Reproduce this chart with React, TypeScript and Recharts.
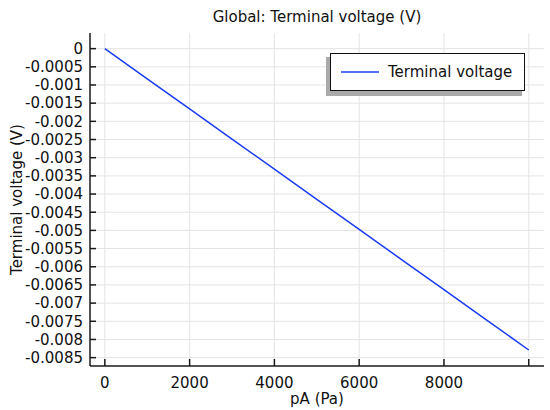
import { LineChart, Line, XAxis, YAxis, CartesianGrid, Legend, Label } from 'recharts';

const pressure = [0, 1000, 2000, 3000, 4000, 5000, 6000, 7000, 8000, 9000, 10000];
const voltage = [0, -0.000829, -0.001658, -0.002487, -0.003316, -0.004145, -0.004974, -0.005803, -0.006632, -0.007461, -0.00829];
const xTicks = [0, 2000, 4000, 6000, 8000, 10000];
const xTickLabels = ['0', '2000', '4000', '6000', '8000', ''];
const yTicks = [0, -0.0005, -0.001, -0.0015, -0.002, -0.0025, -0.003, -0.0035, -0.004, -0.0045, -0.005, -0.0055, -0.006, -0.0065, -0.007, -0.0075, -0.008, -0.0085];
const seriesName = 'Terminal voltage';

const data = pressure.map((p, i) => ({ pA: p, v: voltage[i] }));

const FONT = '"DejaVu Sans", sans-serif';
const AXIS = '#1a1a1a';
const tickStyle = { fontSize: 15, fill: '#111', fontFamily: FONT };
const hiddenTick = { fontSize: 1, fill: 'none' };

function LegendBox() {
  return (
    <div style={{ position: 'relative', width: 196, height: 39, fontFamily: FONT }}>
      <div style={{ position: 'absolute', left: -4, top: 4, width: 196, height: 39, background: '#aaa' }} />
      <div
        style={{
          position: 'absolute', left: 0, top: 0, width: 193, height: 36,
          background: '#fff', border: '1.5px solid #111',
          display: 'flex', alignItems: 'center',
        }}
      >
        <svg width={48} height={10} style={{ marginLeft: 10 }}>
          <line x1={0} y1={5} x2={38} y2={5} stroke="#1a3cf0" strokeWidth={1.5} />
        </svg>
        <span style={{ fontSize: 15, color: '#111', marginLeft: -1 }}>{seriesName}</span>
      </div>
    </div>
  );
}

export default function App() {
  return (
    <div style={{ position: 'absolute', left: 0, top: 0, width: 550, height: 410, background: '#fff' }}>
      <div
        style={{
          position: 'absolute', left: 90, width: 454, top: 8, textAlign: 'center',
          fontFamily: FONT, fontSize: 15, color: '#111',
        }}
      >
        Global: Terminal voltage (V)
      </div>
      <LineChart width={550} height={410} data={data} margin={{ top: 33, right: 6, bottom: 0, left: 0 }}>
        <CartesianGrid stroke="#e4e4e4" strokeWidth={1} verticalValues={xTicks} horizontalValues={yTicks} />
        <XAxis
          dataKey="pA"
          type="number"
          domain={[-350, 10360]}
          ticks={xTicks}
          interval={0}
          allowDataOverflow
          height={44}
          tickSize={-7}
          tickMargin={18}
          stroke={AXIS}
          strokeWidth={1.5}
          tick={tickStyle}
          tickFormatter={(v: number) => xTickLabels[xTicks.indexOf(v)] ?? String(v)}
        >
          <Label value="pA (Pa)" position="insideBottom" offset={6} style={{ fontSize: 15, fill: '#111', fontFamily: FONT }} />
        </XAxis>
        <XAxis
          xAxisId="top"
          orientation="top"
          dataKey="pA"
          type="number"
          domain={[-350, 10360]}
          ticks={xTicks}
          interval={0}
          allowDataOverflow
          height={0}
          tickSize={-7}
          tick={hiddenTick}
          stroke={AXIS}
          strokeWidth={1.5}
        />
        <YAxis
          type="number"
          domain={[-0.00873, 0.00043]}
          ticks={yTicks}
          interval={0}
          allowDataOverflow
          width={90}
          tickSize={-6}
          tickMargin={13}
          stroke={AXIS}
          strokeWidth={1.5}
          tick={tickStyle}
          tickFormatter={(v: number) => String(Number(v.toFixed(4)))}
        >
          <Label
            value="Terminal voltage (V)"
            angle={-90}
            position="insideLeft"
            offset={17}
            style={{ fontSize: 15, fill: '#111', fontFamily: FONT, textAnchor: 'middle' }}
          />
        </YAxis>
        <YAxis
          yAxisId="right"
          orientation="right"
          type="number"
          domain={[-0.00873, 0.00043]}
          ticks={yTicks}
          interval={0}
          allowDataOverflow
          width={0}
          tickSize={-6}
          tick={hiddenTick}
          stroke={AXIS}
          strokeWidth={1.5}
        />
        <Legend
          layout="horizontal"
          verticalAlign="middle"
          align="center"
          wrapperStyle={{ position: 'absolute', left: 330, top: 53, width: 200, height: 45 }}
          content={() => <LegendBox />}
        />
        <Line
          type="linear"
          dataKey="v"
          name={seriesName}
          stroke="#1a3cf0"
          strokeWidth={1.5}
          dot={false}
          isAnimationActive={false}
        />
      </LineChart>
    </div>
  );
}
